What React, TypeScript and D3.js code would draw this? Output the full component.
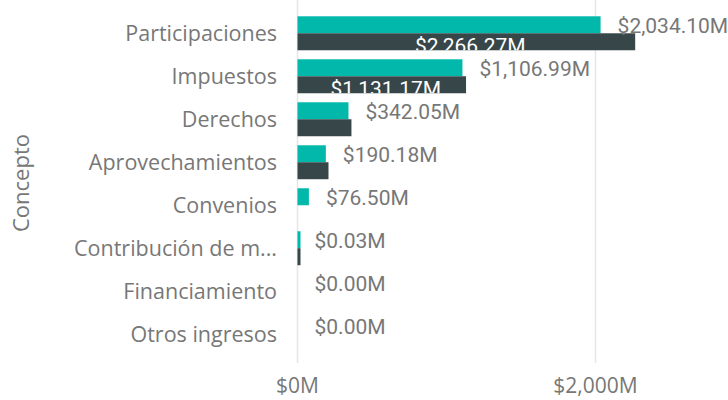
import React from "react";
import * as d3 from "d3";

const categories = [
  "Participaciones",
  "Impuestos",
  "Derechos",
  "Aprovechamientos",
  "Convenios",
  "Contribución de m...",
  "Financiamiento",
  "Otros ingresos",
];
const seriesA = [2034.1, 1106.99, 342.05, 190.18, 76.5, 0.03, 0, 0];
const seriesB = [2266.27, 1131.17, 362, 208, 0, 0.04, 0, 0];
const xTicks = [0, 2000];
const axisTitle = "Concepto";

const W = 728;
const H = 400;
const TEAL = "#01B8AA";
const DARK = "#374649";
const LABEL = "#777777";
const CAT_FONT = "'Open Sans', 'Noto Sans', sans-serif";
const VAL_FONT = "Roboto, 'DejaVu Sans', sans-serif";

const fmt = (v: number) => "$" + d3.format(",.2f")(v) + "M";

export default function App() {
  const x = d3.scaleLinear().domain([0, 2000]).range([297.5, 595.5]);
  const y = d3.scaleBand<string>().domain(categories).range([12, 355.5]).paddingInner(0.21).paddingOuter(0.1);
  const bw = y.bandwidth();
  const sub = d3.scaleBand<string>().domain(["a", "b"]).range([0, bw]);
  const sh = sub.bandwidth();
  const minW = 3;
  const wOf = (v: number) => (v > 0 ? Math.max(minW, x(v) - x(0)) : 0);

  return (
    <svg width={W} height={H} style={{ position: "absolute", left: 0, top: 0 }}>
      <rect width={W} height={H} fill="#fff" />
      <defs>
        {categories.map((c, i) => (
          <clipPath id={`clipb${i}`} key={c}>
            <rect x={x(0)} y={(y(c) as number) + (sub("b") as number)} width={wOf(seriesB[i])} height={sh} />
          </clipPath>
        ))}
      </defs>
      {xTicks.map((t) => (
        <g key={t}>
          <line x1={x(t)} x2={x(t)} y1={0} y2={363} stroke="#e6e6e6" strokeWidth={1.5} />
          <text x={x(t)} y={393} textAnchor="middle" fontFamily={CAT_FONT} fontSize={21} fill={LABEL}>
            {"$" + d3.format(",")(t) + "M"}
          </text>
        </g>
      ))}
      <text
        transform={`translate(29,183) rotate(-90)`}
        textAnchor="middle"
        fontFamily={CAT_FONT}
        fontSize={22}
        fill={LABEL}
      >
        {axisTitle}
      </text>
      {categories.map((c, i) => {
        const y0 = y(c) as number;
        const ya = y0 + (sub("a") as number);
        const yb = y0 + (sub("b") as number);
        const wa = wOf(seriesA[i]);
        const wb = wOf(seriesB[i]);
        const showInsideB = i < 2;
        return (
          <g key={c}>
            <text
              x={277}
              y={y0 + bw / 2}
              dy="0.36em"
              textAnchor="end"
              fontFamily={CAT_FONT}
              fontSize={21.5}
              fill={LABEL}
            >
              {c}
            </text>
            {wa > 0 && <rect x={x(0)} y={ya} width={wa} height={sh} fill={TEAL} />}
            {wb > 0 && <rect x={x(0)} y={yb} width={wb} height={sh} fill={DARK} />}
            <text
              x={x(seriesA[i]) + 17}
              y={ya + sh / 2}
              dy="0.4em"
              fontFamily={VAL_FONT}
              fontSize={21}
              fill={LABEL}
            >
              {fmt(seriesA[i])}
            </text>
            {showInsideB && (
              <text
                x={x(0) + wb / 2 + 4}
                y={yb + sh / 2}
                dy="0.55em"
                textAnchor="middle"
                fontFamily={VAL_FONT}
                fontSize={21}
                fill="#ffffff"
                clipPath={`url(#clipb${i})`}
              >
                {fmt(seriesB[i])}
              </text>
            )}
          </g>
        );
      })}
    </svg>
  );
}
